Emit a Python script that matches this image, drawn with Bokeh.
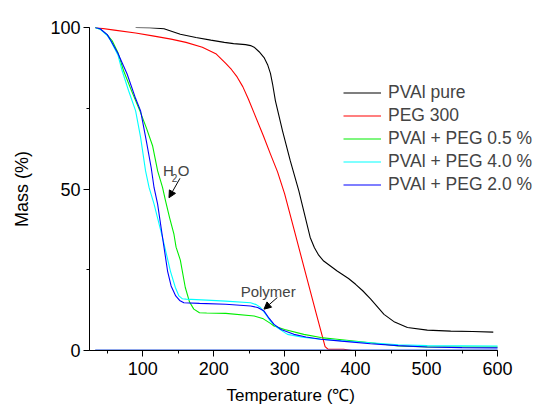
from bokeh.plotting import figure
from bokeh.models import (Range1d, SingleIntervalTicker, Legend, LegendItem,
                          Label, Arrow, NormalHead, Title)
from bokeh.embed import file_html
from bokeh.resources import INLINE

# ---- data ----
temp_pure = [90, 110, 130, 153, 175, 196, 215, 228, 245, 252, 257, 264, 271, 276, 280, 283,
             287, 297, 308, 320, 336, 342, 348, 355, 374, 390, 400, 410, 421, 440, 455,
             473, 501, 534, 565, 594]
mass_pure = [100, 99.9, 99.6, 97.9, 96.9, 96.1, 95.4, 95.0, 94.7, 94.4, 93.9, 92.5, 90.7, 88.5, 85.8, 82.5,
             77.3, 68.0, 58.7, 49.4, 35.0, 31.8, 29.5, 27.7, 24.6, 22.3, 20.5, 18.5, 16.0, 11.2, 8.8,
             7.1, 6.3, 6.0, 5.9, 5.7]

temp_peg = [33, 60, 90, 114, 140, 161, 184, 203, 217, 225, 233, 241, 249, 257, 270, 280, 290,
            300, 315, 330, 345, 357, 361, 383, 395]
mass_peg = [100, 99.2, 98.3, 97.4, 96.4, 95.4, 93.9, 91.9, 88.9, 87.0, 84.7, 81.7, 77.8, 73.5, 66.5,
            60.8, 55.3, 48.5, 36.0, 23.5, 11.0, 1.2, 0.4, 0.4, 0.0]

temp_05 = [33, 40, 50, 57, 65, 73, 85, 96, 105, 114, 121, 128, 132, 138, 144, 147, 153, 160,
           166, 172, 180, 190, 217, 257, 270, 280, 285, 300, 327, 351, 374, 421, 460, 501, 600]
mass_05 = [100, 99.5, 97.7, 95.9, 92.3, 86.6, 80.0, 74.2, 69.0, 63.3, 55.6, 50.4, 46.5, 41.0, 36.0, 32.0,
           28.0, 19.5, 15.0, 12.8, 11.7, 11.6, 11.5, 10.7, 9.8, 8.4, 7.6, 6.5, 5.0, 4.0, 3.5, 2.4,
           1.4, 1.1, 1.1]

temp_40 = [33, 40, 50, 55, 65, 71, 80, 90, 97, 104, 109, 116, 128, 139, 146, 151, 156, 161, 190,
           217, 252, 260, 266, 273, 280, 290, 304, 325, 351, 421, 460, 501, 600]
mass_40 = [100, 99.5, 97.5, 95.8, 91.5, 86.6, 80.5, 74.2, 66.0, 55.6, 50.4, 45.3, 34.9, 24.6, 19.5, 16.9,
           16.0, 15.9, 15.6, 15.3, 14.8, 14.2, 13.3, 11.3, 9.1, 7.0, 5.0, 4.1, 3.5, 2.4, 1.8, 1.5, 1.4]

temp_20 = [33, 40, 50, 55, 65, 78, 90, 97, 105, 112, 116, 121, 128, 135, 140, 146.5, 152, 158,
           180, 217, 252, 262, 271, 278, 285, 295, 313, 330, 351, 380, 421, 460, 501, 550, 600]
mass_20 = [100, 99.6, 97.8, 96.0, 92.0, 85.6, 78.0, 74.2, 65.0, 56.5, 50.4, 45.3, 34.9, 24.6, 20.0, 16.9,
           15.5, 14.8, 14.6, 14.3, 13.8, 13.3, 12.2, 10.0, 8.1, 6.5, 5.0, 4.2, 3.5, 2.9, 2.1, 1.5,
           1.1, 0.9, 0.8]

baseline_temp = [33, 600]
baseline_mass = [0, 0]

series_labels = ["PVAl pure", "PEG 300", "PVAl + PEG 0.5 %", "PVAl + PEG 4.0 %", "PVAl + PEG 2.0 %"]
series_colors = ["#000000", "#ff0000", "#00ee00", "#00ffff", "#0000ff"]

X_AXIS_START, X_AXIS_END = 25, 600
FONT = "Liberation Sans"

# frame extended to the right edge so the legend text is not clipped;
# the x axis itself is bounded to 25..600
p = figure(width=534, height=413, output_backend="svg", toolbar_location=None,
           x_range=Range1d(25, 652.1), y_range=Range1d(0, 100),
           min_border_left=89, min_border_right=0, min_border_top=27, min_border_bottom=63)
p.grid.visible = False
p.outline_line_color = None
p.background_fill_color = "white"

xs = [temp_pure, temp_peg, temp_05, temp_40, temp_20]
ys = [mass_pure, mass_peg, mass_05, mass_40, mass_20]
renderers = []
for x, y, c in zip(xs, ys, series_colors):
    renderers.append(p.line(x, y, line_color=c, line_width=1.1))

p.line(baseline_temp, baseline_mass, line_color="#1f4fd8", line_width=2)

# axes
p.xaxis.bounds = (X_AXIS_START, X_AXIS_END)
p.xaxis.ticker = SingleIntervalTicker(interval=100, num_minor_ticks=2)
p.yaxis.ticker = SingleIntervalTicker(interval=50, num_minor_ticks=2)
for ax in (p.xaxis, p.yaxis):
    ax.major_tick_in = 0
    ax.minor_tick_in = 0
    ax.major_tick_out = 6
    ax.minor_tick_out = 3
    ax.axis_line_color = "black"
    ax.major_tick_line_color = "black"
    ax.minor_tick_line_color = "black"
    ax.major_label_text_font = FONT
    ax.major_label_text_font_size = "18px"
    ax.major_label_text_color = "black"
    ax.axis_label_text_font = FONT
    ax.axis_label_text_font_size = "18px"
    ax.axis_label_text_font_style = "normal"
    ax.axis_label_text_color = "black"
p.yaxis.axis_label = "Mass (%)"
p.xaxis.major_label_standoff = 5
p.yaxis.major_label_standoff = 3
p.yaxis.axis_label_standoff = 15

# x axis title, centred under the 25..600 span (not the widened frame)
p.add_layout(Title(text="Temperature (℃)", align="left", offset=137, standoff=13,
                   text_font=FONT, text_font_size="17px", text_font_style="normal",
                   text_color="black"), "below")

legend = Legend(items=[LegendItem(label=l, renderers=[r]) for l, r in zip(series_labels, renderers)],
                location=(254, 154), padding=0, margin=0, spacing=0,
                glyph_width=38, glyph_height=23, label_height=23, label_standoff=7,
                label_text_font=FONT, label_text_font_size="17.5px",
                border_line_alpha=0, background_fill_alpha=0)
p.add_layout(legend, "center")

# annotations
p.add_layout(Label(x=128.5, y=55.6, text="H", text_font=FONT, text_font_size="15px",
                   text_baseline="alphabetic"))
p.add_layout(Label(x=141.0, y=53.5, text="2", text_font=FONT, text_font_size="10px",
                   text_baseline="alphabetic"))
p.add_layout(Label(x=149.5, y=55.6, text="O", text_font=FONT, text_font_size="15px",
                   text_baseline="alphabetic"))
p.add_layout(Arrow(x_start=152.5, y_start=53.3, x_end=137, y_end=47.3, line_width=1,
                   end=NormalHead(size=7, fill_color="black", line_color="black")))

p.add_layout(Label(x=238, y=18.4, text="Polymer", text_font=FONT, text_font_size="15px",
                   text_baseline="alphabetic"))
p.add_layout(Arrow(x_start=289.7, y_start=16.4, x_end=270.9, y_end=12.8, line_width=1,
                   end=NormalHead(size=7, fill_color="black", line_color="black")))

open("out.html", "w").write(file_html(p, INLINE))
